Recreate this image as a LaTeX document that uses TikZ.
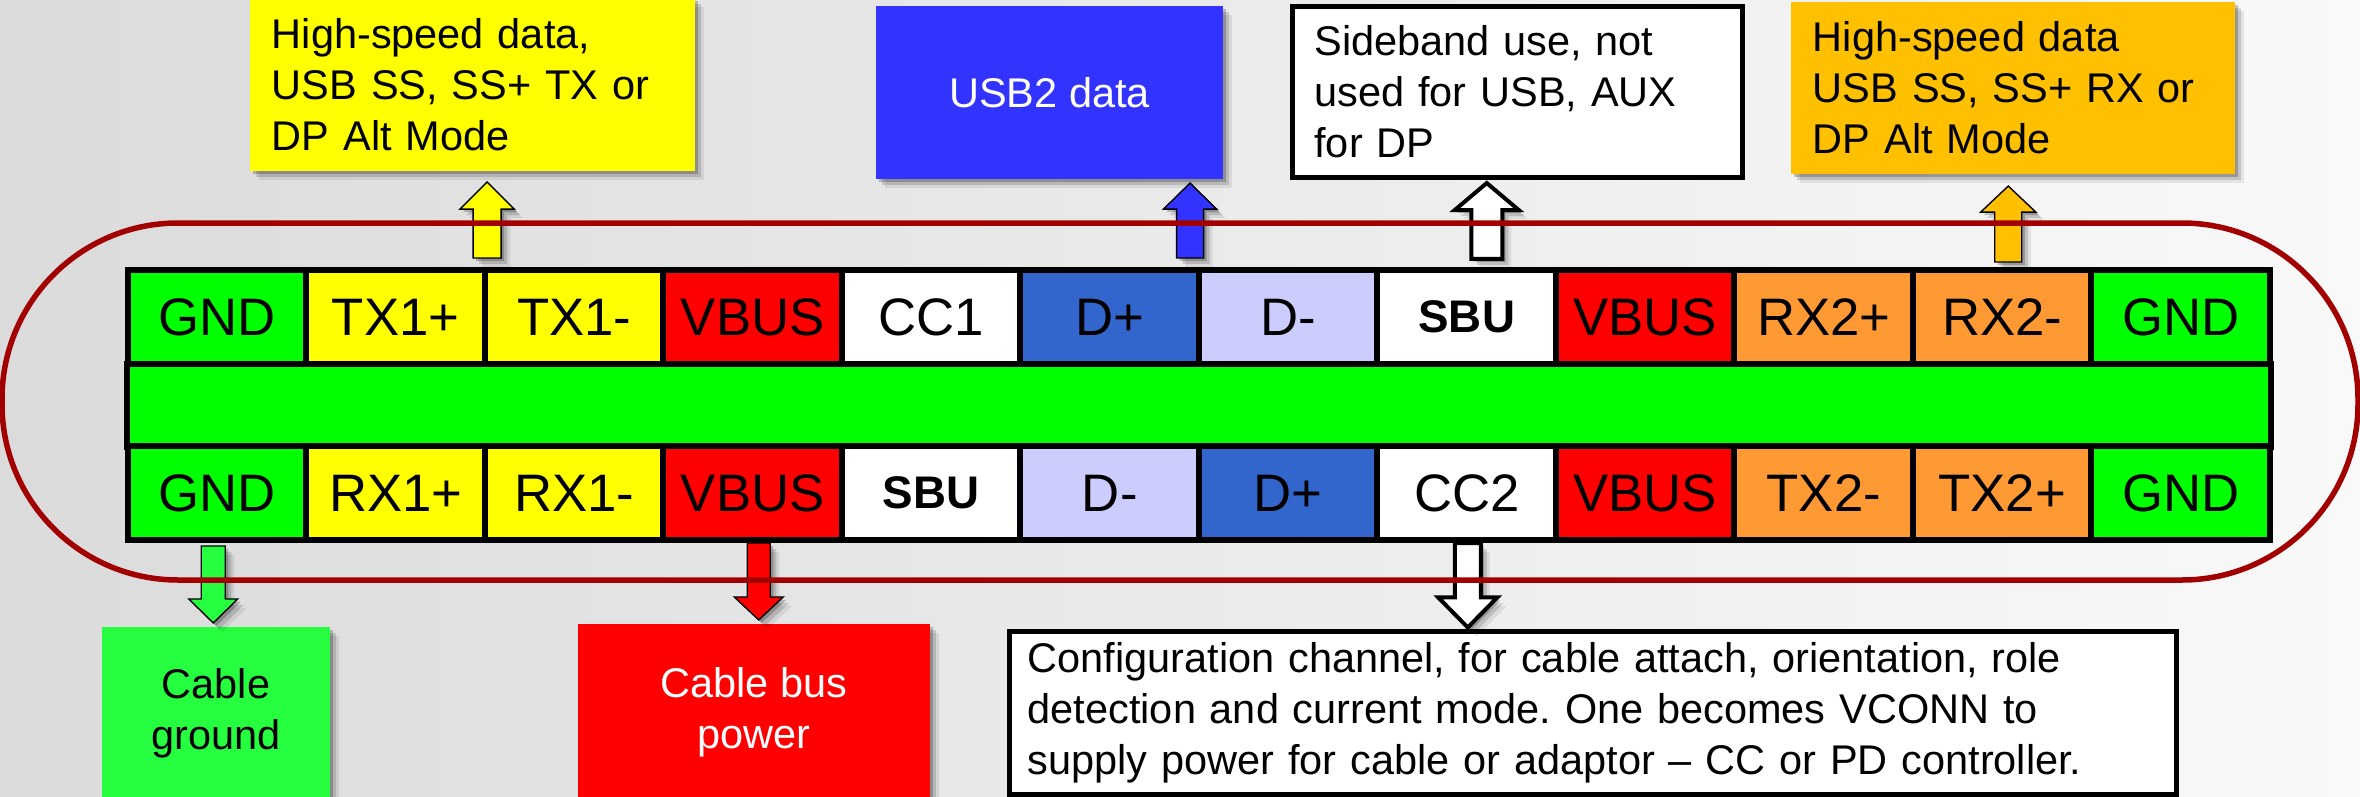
\documentclass[tikz,border=0pt]{standalone}
\usepackage{fontspec}
\setmainfont{Liberation Sans}
\usetikzlibrary{calc,shadows}
\frenchspacing

% palette
\definecolor{pingreen}{RGB}{0,255,0}
\definecolor{pinyellow}{RGB}{255,255,0}
\definecolor{pinred}{RGB}{255,0,0}
\definecolor{pinblue}{RGB}{51,102,204}
\definecolor{pinlav}{RGB}{204,204,255}
\definecolor{pinorange}{RGB}{255,153,51}
\definecolor{shellred}{RGB}{162,0,0}
\definecolor{usbblue}{RGB}{51,51,255}
\definecolor{hsorange}{RGB}{255,192,0}
\definecolor{gndgreen}{RGB}{38,255,64}
\definecolor{bgleft}{RGB}{219,219,219}
\definecolor{bgright}{RGB}{249,249,249}

% vertical block arrow: options, base, tip, shaft half width, head half width, head length (signed)
\newcommand\vblockarrow[6]{%
  \draw[#1] ($(#2)+(-#4,0)$) -- ($(#3)+(-#4,#6)$) -- ($(#3)+(-#5,#6)$) -- (#3)
    -- ($(#3)+(#5,#6)$) -- ($(#3)+(#4,#6)$) -- ($(#2)+(#4,0)$) -- cycle;}

\tikzset{
  pin/.style={draw=black, line width=0.06cm, outer sep=0pt, inner sep=0pt,
    minimum width=1.785cm, font=\fontsize{15}{18}\selectfont},
  toppin/.style={pin, minimum height=0.94cm},
  botpin/.style={pin, minimum height=0.935cm},
  pinreg/.style={},
  pinbold/.style={font=\fontsize{13}{16}\selectfont\bfseries},
  softshadow/.style={
    drop shadow={shadow xshift=0.03cm, shadow yshift=-0.03cm, opacity=0.22, fill=black},
    drop shadow={shadow xshift=0.06cm, shadow yshift=-0.06cm, opacity=0.14, fill=black},
    drop shadow={shadow xshift=0.09cm, shadow yshift=-0.09cm, opacity=0.08, fill=black}},
  note/.style={inner sep=0pt, outer sep=0pt, font=\fontsize{11.8}{14.5}\selectfont, align=left},
  solidarrow/.style={softshadow},
  hollowarrow/.style={fill=white, draw=black, line width=0.04cm, miter limit=4, softshadow},
}

\begin{document}
\begin{tikzpicture}[x=0.01cm, y=-0.01cm]
\useasboundingbox (0,0) rectangle (2360,797);
\clip (0,0) rectangle (2360,797);
\shade[left color=bgleft, right color=bgright] (0,0) rectangle (2360,797);

% ---- callout boxes above ----
\node[note, fill=pinyellow, softshadow, minimum width=4.45cm, minimum height=1.73cm,
      text width=4.01cm] (hsy) at (472.5,84.5)
  {High-speed data,\\USB SS, SS+ TX or\\DP Alt Mode};
\node[note, fill=usbblue, softshadow, minimum width=3.47cm, minimum height=1.73cm,
      text=white, align=center] (usb) at (1049.5,92.5) {USB2 data};
\node[note, fill=white, draw=black, line width=0.05cm, minimum width=4.50cm,
      minimum height=1.71cm, text width=4.06cm] (sbx) at (1517.5,92)
  {Sideband use, not\\used for USB, AUX\\for DP};
\node[note, fill=hsorange, softshadow, minimum width=4.44cm, minimum height=1.72cm,
      text width=4.00cm] (hso) at (2013,88)
  {High-speed data\\USB SS, SS+ RX or\\DP Alt Mode};

% ---- callout boxes below ----
\node[note, fill=gndgreen, softshadow, minimum width=2.28cm, minimum height=1.73cm,
      align=center] (gnd) at (216,713.5) {Cable\\ground};
\node[note, fill=pinred, softshadow, minimum width=3.52cm, minimum height=1.76cm,
      align=center, text=white] (vbx) at (754,712) {Cable bus\\power};
\node[note, fill=white, draw=black, line width=0.05cm, minimum width=11.67cm,
      minimum height=1.63cm, text width=11.30cm] (ccx) at (1593,713)
  {Configuration channel, for cable attach, orientation, role\\
   detection and current mode. One becomes VCONN to\\
   supply power for cable or adaptor -- CC or PD controller.};

% ---- receptacle pin map ----
\node[draw=black, line width=0.06cm, fill=pingreen, outer sep=0pt,
      minimum width=21.42cm, minimum height=0.825cm] (tongue) at (1199,405.25) {};
\foreach \i/\lab/\col/\st in {1/GND/pingreen/pinreg, 2/TX1+/pinyellow/pinreg,
    3/TX1-/pinyellow/pinreg, 4/VBUS/pinred/pinreg, 5/CC1/white/pinreg,
    6/D+/pinblue/pinreg, 7/D-/pinlav/pinreg, 8/SBU/white/pinbold,
    9/VBUS/pinred/pinreg, 10/RX2+/pinorange/pinreg, 11/RX2-/pinorange/pinreg,
    12/GND/pingreen/pinreg}
  \node[toppin, \st, fill=\col] (t\i) at ({128+178.5*(\i-0.5)},317) {\lab};
\foreach \i/\lab/\col/\st in {1/GND/pingreen/pinreg, 2/RX1+/pinyellow/pinreg,
    3/RX1-/pinyellow/pinreg, 4/VBUS/pinred/pinreg, 5/SBU/white/pinbold,
    6/D-/pinlav/pinreg, 7/D+/pinblue/pinreg, 8/CC2/white/pinreg,
    9/VBUS/pinred/pinreg, 10/TX2-/pinorange/pinreg, 11/TX2+/pinorange/pinreg,
    12/GND/pingreen/pinreg}
  \node[botpin, \st, fill=\col] (b\i) at ({128+178.5*(\i-0.5)},493.25) {\lab};

% ---- arrow end points ----
\coordinate (yA) at ($(t2.north east)+(2,-12)$);
\coordinate (yB) at ($(yA |- hsy.south)+(0,11)$);
\coordinate (uA) at ($(t6.north east)+(-9,-12)$);
\coordinate (uB) at ($(uA |- usb.south)+(0,4)$);
\coordinate (sA) at ($(t8.north)+(20,-11)$);
\coordinate (sB) at ($(sA |- sbx.south)+(0,5.5)$);
\coordinate (oA) at ($(t11.north)+(6,-8)$);
\coordinate (oB) at ($(oA |- hso.south)+(0,12)$);
\coordinate (gA) at ($(b1.south)+(-4,6)$);
\coordinate (gB) at ($(gA |- gnd.north)+(0,-4)$);
\coordinate (rA) at ($(b4.south)+(6,3)$);
\coordinate (rB) at ($(rA |- vbx.north)+(0,-4)$);
\coordinate (cA) at ($(b8.south)+(1,3)$);
\coordinate (cB) at ($(cA |- ccx.north)+(0,-4)$);

% ---- block arrows ----
\vblockarrow{solidarrow, fill=pinyellow}{yA}{yB}{14}{27}{27}
\vblockarrow{solidarrow, fill=usbblue}{uA}{uB}{13.5}{26.5}{26}
\vblockarrow{hollowarrow}{sA}{sB}{15.5}{32}{27}
\vblockarrow{solidarrow, fill=hsorange}{oA}{oB}{13.5}{27.5}{26}
\vblockarrow{solidarrow, fill=gndgreen}{gA}{gB}{12}{24.5}{-24}
\vblockarrow{solidarrow, fill=pinred}{rA}{rB}{11.5}{24.5}{-23}
\vblockarrow{hollowarrow}{cA}{cB}{13}{29.5}{-30}

% ---- plug shell outline ----
\draw[shellred, line width=0.055cm, rounded corners=1.76cm] (2,223) rectangle (2358,580);
\end{tikzpicture}
\end{document}
